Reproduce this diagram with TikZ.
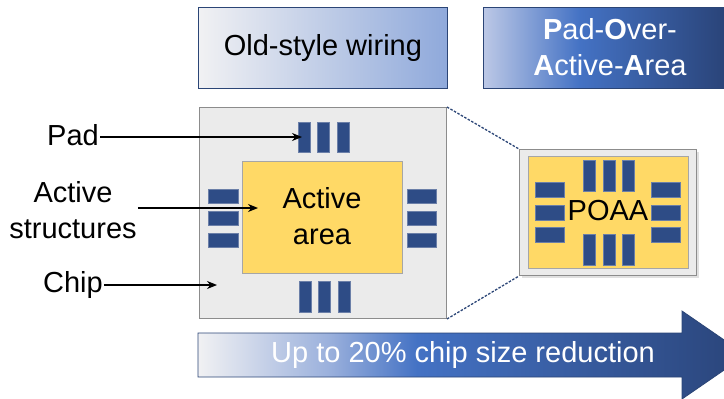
\documentclass[tikz,border=0pt]{standalone}
\usepackage{fontspec}
\setmainfont{Liberation Sans}
\usetikzlibrary{arrows.meta}

\definecolor{padblue}{HTML}{2E4C86}
\definecolor{padedge}{HTML}{6B7FA8}
\definecolor{chipfill}{HTML}{EBEBEB}
\definecolor{chipedge}{HTML}{8C8C8C}
\definecolor{activefill}{HTML}{FFD966}
\definecolor{activeedge}{HTML}{A6A6A6}
\definecolor{navy}{HTML}{2B4576}
\definecolor{gLight}{HTML}{F1F1F3}
\definecolor{gPale}{HTML}{8FA9DB}
\definecolor{gMid}{HTML}{4472C4}
\definecolor{gDark}{HTML}{2A4479}
\definecolor{gSoft}{HTML}{BCC8E6}
\definecolor{gFade}{HTML}{9AB0DC}

% horizontal gradients (the central 25bp..75bp band spans the shaded path)
\pgfdeclarehorizontalshading{oldgrad}{100bp}{color(0bp)=(gLight); color(25bp)=(gLight); color(75bp)=(gPale); color(100bp)=(gPale)}
\pgfdeclarehorizontalshading{poaagrad}{100bp}{color(0bp)=(gSoft); color(25bp)=(gSoft); color(45bp)=(gMid); color(75bp)=(gDark); color(100bp)=(gDark)}
\pgfdeclarehorizontalshading{arrowgrad}{100bp}{color(0bp)=(gLight); color(25bp)=(gLight); color(37bp)=(gFade); color(45bp)=(gMid); color(75bp)=(gDark); color(100bp)=(gDark)}

\tikzset{
  txt/.style={font=\fontsize{29}{36}\selectfont, inner sep=1pt, align=center},
  header/.style={draw=navy, line width=0.8pt, inner sep=0pt, anchor=north west},
  padrect/.style={fill=padblue, draw=padedge, line width=0.6pt},
  chipbody/.style={fill=chipfill, draw=chipedge, line width=1pt},
  activebody/.style={fill=activefill, draw=activeedge, line width=1pt},
  callout/.style={line width=1.2pt, -{Stealth[length=10pt,width=8pt]}},
  zoomline/.style={draw=navy, line width=1.3pt, dash pattern=on 2.5pt off 1.5pt},
}

\begin{document}
\begin{tikzpicture}[x=1pt, y=-1pt]
\useasboundingbox (0,0) rectangle (724,399);

% headers
\node[header, shading=oldgrad, minimum width=249pt, minimum height=81pt] (oldbox) at (198,7) {};
\node[txt] (oldtxt) at (oldbox.center) {Old-style wiring};
\node[header, shading=poaagrad, minimum width=241pt, minimum height=81pt] (poaabox) at (483,7) {};
\node[txt, text=white] (poaatxt) at (610,47) {\textbf{P}ad-\textbf{O}ver-\\\textbf{A}ctive-\textbf{A}rea};

% conventional chip
\node[chipbody, minimum width=247pt, minimum height=211pt, inner sep=0pt, anchor=north west] (chip) at (199,107) {};
\node[activebody, minimum width=160pt, minimum height=112pt, inner sep=0pt, anchor=north west] (active) at (242,161) {};
\node[txt] (activetxt) at (322,216) {Active\\area};

\foreach \x in {298,317.5,337} {
  \draw[padrect] (\x,122) rectangle ++(12,30);
  \draw[padrect] (\x+1,281) rectangle ++(12,31);
}
\foreach \y in {189,211,233} {
  \draw[padrect] (208,\y) rectangle ++(30,14.5);
  \draw[padrect] (407,\y) rectangle ++(29,14.5);
}

% POAA chip with a soft drop shadow
\fill[black!12] (522,152) rectangle (699,278);
\node[chipbody, minimum width=177pt, minimum height=126pt, inner sep=0pt, anchor=north west] (small) at (519,149) {};
\node[activebody, minimum width=160pt, minimum height=112pt, inner sep=0pt, anchor=north west] (smallactive) at (528,156) {};
\foreach \x in {583,603,622} {
  \draw[padrect] (\x,160) rectangle ++(12,31);
  \draw[padrect] (\x,234) rectangle ++(12,31);
}
\foreach \y in {182,205,227} {
  \draw[padrect] (535,\y) rectangle ++(29,15.5);
  \draw[padrect] (651,\y) rectangle ++(29,15.5);
}
\node[txt] (poaalabel) at (608,211) {POAA};

% zoom lines
\draw[zoomline] (chip.north east) -- (small.north west);
\draw[zoomline] (chip.south east) -- (small.south west);

% callouts
\node[txt] (padlbl) at (73,135) {Pad};
\node[txt] (actlbl) at (73,210) {Active\\structures};
\node[txt] (chiplbl) at (73,285) {Chip};
\coordinate (padpt) at (302,137);
\coordinate (actpt) at (258,208);
\coordinate (chippt) at (217,285);
\draw[callout] (padlbl.east |- padpt) -- (padpt);
\draw[callout] (actlbl.east |- actpt) -- (actpt);
\draw[callout] (chiplbl.east) -- (chippt);

% bottom arrow
\shade[shading=arrowgrad, draw=navy, line width=0.8pt]
  (198,333) -- (682,333) -- (682,311) -- (746,355) -- (682,399) -- (682,377) -- (198,377) -- cycle;
\node[txt, text=white] (gain) at (463,355) {Up to 20\% chip size reduction};
\end{tikzpicture}
\end{document}
